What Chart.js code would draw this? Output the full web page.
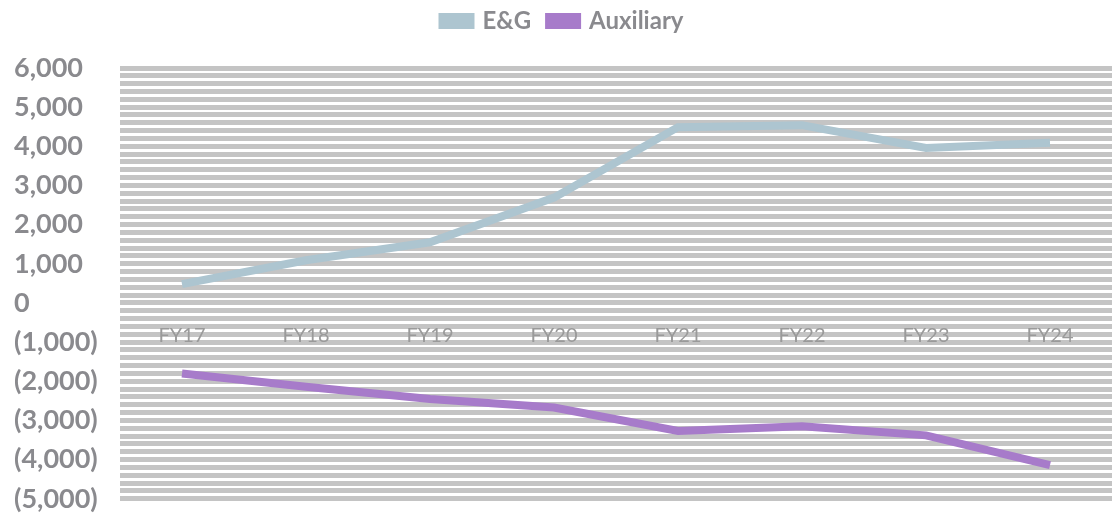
<!DOCTYPE html>
<html lang="en">
<head>
<meta charset="UTF-8">
<title>E&amp;G vs Auxiliary</title>
<script src="https://cdn.jsdelivr.net/npm/chart.js"></script>
<style>
  html, body { margin: 0; padding: 0; background: #fff; }
  #box { width: 1112px; height: 518px; }
</style>
</head>
<body>
<div id="box"><canvas id="myChartCanvas"></canvas></div>
<script>
    // dados
    const anos = ['FY17', 'FY18', 'FY19', 'FY20', 'FY21', 'FY22', 'FY23', 'FY24'];
    const eg = [480, 1090, 1550, 2690, 4490, 4540, 3960, 4090];
    const auxiliary = [-1800, -2140, -2450, -2670, -3270, -3150, -3380, -4140];
    const eixoMin = -5000;
    const eixoMax = 6000;

    const cinza = '#8a8a8e';

    function formatar(v) {
        if (v % 1000 !== 0) return '';
        const s = Math.abs(v).toLocaleString('en-US');
        return v < 0 ? '(' + s + ')' : s;
    }

    // espaço extra entre a legenda e o gráfico
    const folgaLegenda = {
        id: 'folgaLegenda',
        beforeInit(chart) {
            const fitOriginal = chart.legend.fit;
            chart.legend.fit = function () {
                fitOriginal.bind(chart.legend)();
                this.height += 25;
            };
        }
    };

    const dados = {
        labels: anos,
        datasets: [{
            label: 'E&G',
            data: eg,
            borderColor: '#adc5d0',
            backgroundColor: '#adc5d0',
            borderWidth: 8,
            pointRadius: 0,
            tension: 0
        }, {
            label: 'Auxiliary',
            data: auxiliary,
            borderColor: '#a77bca',
            backgroundColor: '#a77bca',
            borderWidth: 8,
            pointRadius: 0,
            tension: 0
        }]
    };

    const config = {
        type: 'line',
        data: dados,
        plugins: [folgaLegenda],
        options: {
            responsive: true,
            maintainAspectRatio: false,
            animation: false,
            layout: { padding: { left: 14, right: 0, top: -9, bottom: 12 } },
            plugins: {
                tooltip: { enabled: false },
                legend: {
                    position: 'top',
                    labels: {
                        color: cinza,
                        font: { family: 'Lato', size: 24, weight: 'bold' },
                        boxWidth: 28,
                        boxHeight: 8,
                        padding: 18
                    }
                }
            },
            scales: {
                x: {
                    position: { y: 0 },
                    offset: true,
                    grid: { display: false, offset: true },
                    border: { display: false },
                    ticks: {
                        color: '#9a9a9a',
                        font: { family: 'Lato', size: 20 },
                        padding: 13,
                        maxRotation: 0
                    }
                },
                y: {
                    min: eixoMin,
                    max: eixoMax,
                    border: { display: false },
                    grid: {
                        color: '#c4c4c4',
                        lineWidth: 5,
                        drawTicks: false
                    },
                    ticks: {
                        stepSize: 200,
                        autoSkip: false,
                        crossAlign: 'far',
                        color: cinza,
                        font: { family: 'Lato', size: 27, weight: 'bold' },
                        callback: function (v) { return formatar(v); }
                    },
                    afterFit: function (scale) { scale.width = 106; }
                }
            }
        }
    };

    let myChart = new Chart(document.getElementById('myChartCanvas'), config);
</script>
</body>
</html>
